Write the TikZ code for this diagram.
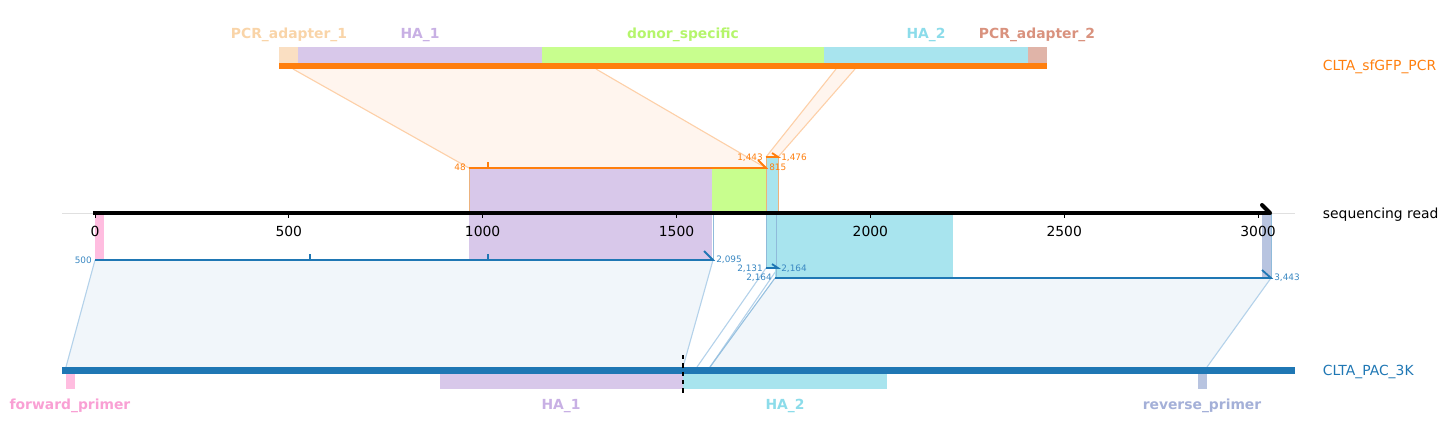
\documentclass[tikz,border=0pt]{standalone}
\usepackage{fontspec}
\setmainfont{DejaVu Sans}
\usetikzlibrary{calc}
\definecolor{cOrange}{HTML}{FF7F0E}
\definecolor{cBlue}{HTML}{1F77B4}
\definecolor{cNum}{HTML}{3A88C2}
\definecolor{fAdaptA}{HTML}{FADFC2}
\definecolor{tAdaptA}{HTML}{F9D4A8}
\definecolor{fHAone}{HTML}{D8C8EA}
\definecolor{tHAone}{HTML}{C8B0E4}
\definecolor{fDonor}{HTML}{C8FE8E}
\definecolor{tDonor}{HTML}{B5F56B}
\definecolor{fHAtwo}{HTML}{A8E4EE}
\definecolor{tHAtwo}{HTML}{8CDCEA}
\definecolor{fAdaptB}{HTML}{E0B4A8}
\definecolor{tAdaptB}{HTML}{D9927E}
\definecolor{fFwd}{HTML}{FFBDE0}
\definecolor{tFwd}{HTML}{F9A0D4}
\definecolor{fRev}{HTML}{B8C4E0}
\definecolor{tRev}{HTML}{A4B0D8}
\definecolor{pOrange}{HTML}{FFF5EE}
\definecolor{eOrange}{HTML}{FDD0A8}
\definecolor{pBlue}{HTML}{F1F6FA}
\definecolor{eBlue}{HTML}{B4D2EA}
\tikzset{
  featlabel/.style={font=\fontsize{10}{12}\selectfont\bfseries},
  seqlabel/.style={font=\fontsize{10}{12}\selectfont, anchor=west},
  smallnum/.style={font=\fontsize{6.4}{7}\selectfont, inner sep=0pt},
}

\begin{document}
\begin{tikzpicture}[x=0.72pt,y=-0.72pt]
\useasboundingbox (0,0) rectangle (1449,437);

% projections
\fill[pOrange] (293,69) -- (596,69) -- (766,168) -- (469,168) -- cycle;
\fill[pOrange] (836,69) -- (855,69) -- (778,157) -- (766,157) -- cycle;
\draw[eOrange, line width=0.8pt] (293,69) -- (469,168);
\draw[eOrange, line width=0.8pt] (596,69) -- (766,168);
\draw[eOrange, line width=0.8pt] (836,69) -- (766,157);
\draw[eOrange, line width=0.8pt] (855,69) -- (778,157);

\fill[pBlue] (95,260) -- (713,260) -- (683,367) -- (66,367) -- cycle;
\fill[pBlue] (775,278) -- (1271,278) -- (1207,367) -- (710,367) -- cycle;
\draw[eBlue, line width=0.8pt] (95,260) -- (66,367);
\draw[eBlue, line width=0.8pt] (713,260) -- (683,367);
\draw[eBlue, line width=0.8pt] (766,268) -- (697,367);
\draw[eBlue, line width=0.8pt] (778,268) -- (710,367);
\draw[eBlue!80!cBlue, line width=0.8pt] (775,278) -- (710,367);
\draw[eBlue, line width=0.8pt] (1271,278) -- (1207,367);

% features on the read
\fill[fHAone] (469,168) rectangle (712,260);
\fill[fDonor] (712,168) rectangle (766,213);
\fill[fHAtwo] (766,157) rectangle (778,268);
\fill[fHAtwo] (775,213) rectangle (953,278);
\fill[fFwd] (95,213) rectangle (104,260);
\fill[fRev] (1262,213) rectangle (1271,278);
\draw[cOrange!50!brown!60, line width=0.6pt] (469,168) -- (469,213);
\draw[cOrange!50!brown!60, line width=0.6pt] (766,157) -- (766,213);
\draw[cOrange!50!brown!60, line width=0.6pt] (778,157) -- (778,213);
\draw[cBlue!50, line width=0.6pt] (713,213) -- (713,260);
\draw[cBlue!50, line width=0.6pt] (766,213) -- (766,268);
\draw[cBlue!50, line width=0.6pt] (776,213) -- (776,278);
\draw[cBlue!50, line width=0.6pt] (1271,213) -- (1271,278);

% CLTA_sfGFP_PCR
\fill[fAdaptA] (279,47) rectangle (298,63);
\fill[fHAone] (298,47) rectangle (542,63);
\fill[fDonor] (542,47) rectangle (824,63);
\fill[fHAtwo] (824,47) rectangle (1028,63);
\fill[fAdaptB] (1028,47) rectangle (1047,63);
\fill[cOrange] (279,63) rectangle (1047,69);
\node[featlabel, text=tAdaptA] (adapterA) at (289,35) {PCR\_adapter\_1};
\node[featlabel, text=tHAone] (haOneTop) at (420,35) {HA\_1};
\node[featlabel, text=tDonor] (donor) at (683,35) {donor\_specific};
\node[featlabel, text=tHAtwo] (haTwoTop) at (926,35) {HA\_2};
\node[featlabel, text=tAdaptB] (adapterB) at (1037,35) {PCR\_adapter\_2};
\node[seqlabel, text=cOrange] (pcr) at (1318,67) {CLTA\_sfGFP\_PCR};

% CLTA_PAC_3K
\fill[cBlue] (62,367) rectangle (1295,374);
\fill[fFwd] (66,374) rectangle (75,389);
\fill[fHAone] (440,374) rectangle (683,389);
\fill[fHAtwo] (683,374) rectangle (887,389);
\fill[fRev] (1198,374) rectangle (1207,389);
\draw[black, dashed, line width=0.8pt] (683,355) -- (683,393);
\node[featlabel, text=tFwd] (fwd) at (70,406) {forward\_primer};
\node[featlabel, text=tHAone] (haOneBot) at (561,406) {HA\_1};
\node[featlabel, text=tHAtwo] (haTwoBot) at (785,406) {HA\_2};
\node[featlabel, text=tRev] (rev) at (1202,406) {reverse\_primer};
\node[seqlabel, text=cBlue] (pac) at (1318,372) {CLTA\_PAC\_3K};

% alignments
\draw[cOrange, line width=1.3pt] (469,168) -- (766,168) -- (758,160);
\draw[cOrange, line width=1.3pt] (488,162) -- (488,168);
\draw[cOrange, line width=1.3pt] (766,157) -- (778,157) -- (772,153);
\node[smallnum, text=cOrange, anchor=east] (oA) at (466,167) {48};
\node[smallnum, text=cOrange, anchor=west] (oB) at (769,167) {815};
\node[smallnum, text=cOrange, anchor=east] (oC) at (763,158) {1,443};
\node[smallnum, text=cOrange, anchor=west] (oD) at (781,158) {1,476};

\draw[cBlue, line width=1.3pt] (95,260) -- (713,260) -- (704,251);
\draw[cBlue, line width=1.3pt] (310,254) -- (310,260);
\draw[cBlue, line width=1.3pt] (488,254) -- (488,260);
\draw[cBlue, line width=1.3pt] (766,268) -- (778,268) -- (772,264);
\draw[cBlue, line width=1.3pt] (775,278) -- (1271,278) -- (1262,270);
\node[smallnum, text=cNum, anchor=east] (bA) at (92,260) {500};
\node[smallnum, text=cNum, anchor=west] (bB) at (716,260) {2,095};
\node[smallnum, text=cNum, anchor=east] (bC) at (763,269) {2,131};
\node[smallnum, text=cNum, anchor=west] (bD) at (781,269) {2,164};
\node[smallnum, text=cNum, anchor=east] (bE) at (772,278) {2,164};
\node[smallnum, text=cNum, anchor=west] (bF) at (1274,278) {3,443};

% sequencing read
\draw[black!12, line width=0.6pt] (62,213) -- (1295,213);
\draw[black, line width=2.9pt] (93,213) -- (1270,213);
\draw[black, line width=2.9pt, line cap=round] (1262,205) -- (1270,213);
\foreach \v in {0,500,...,3000}{
  \draw[black, line width=0.6pt] ({95+\v*0.38767},213) -- ({95+\v*0.38767},218);
  \node[font=\fontsize{10}{12}\selectfont] (tick\v) at ({95+\v*0.38767},231) {\v};
};
\node[seqlabel, text=black] (read) at (1318,215) {sequencing read};

\end{tikzpicture}
\end{document}
